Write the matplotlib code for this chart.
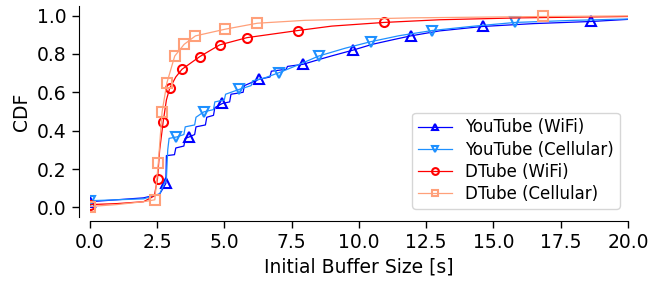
import matplotlib
matplotlib.use('Agg')
import matplotlib.pyplot as plt

# YouTube (WiFi)
yt_wifi_x = [0, 1.0, 2.0, 2.6, 2.83, 2.85, 3.15, 3.2, 3.5, 3.55, 3.69, 3.9, 3.95, 4.3, 4.35, 4.6, 4.65,
             4.93, 5.2, 5.25, 5.7, 5.75, 6.28, 6.7, 6.75, 7.3, 7.35, 7.93, 8.5, 9.0, 9.79, 10.5, 11.3,
             11.93, 13.0, 14.6, 16.5, 18.64, 20]
yt_wifi_y = [0.03, 0.04, 0.05, 0.07, 0.125, 0.27, 0.275, 0.31, 0.32, 0.36, 0.367, 0.38, 0.42, 0.43, 0.47, 0.48, 0.52,
             0.542, 0.55, 0.59, 0.60, 0.635, 0.667, 0.68, 0.71, 0.72, 0.735, 0.746, 0.77, 0.79, 0.82, 0.85, 0.875,
             0.894, 0.92, 0.943, 0.958, 0.969, 0.98]
yt_wifi_marks = [0, 4, 10, 17, 22, 27, 30, 33, 35, 37]

# YouTube (Cellular)
yt_cell_x = [0, 1.0, 2.0, 2.6, 2.85, 2.9, 2.95, 3.22, 3.5, 3.55, 3.9, 3.95, 4.24, 4.6, 4.65, 5.0, 5.05,
             5.55, 6.0, 6.05, 6.5, 7.03, 7.7, 8.51, 9.5, 10.45, 11.5, 12.73, 14.3, 15.81, 18.0, 20]
yt_cell_y = [0.035, 0.04, 0.045, 0.07, 0.15, 0.30, 0.36, 0.367, 0.38, 0.42, 0.43, 0.47, 0.498, 0.51, 0.55, 0.56, 0.59,
             0.615, 0.635, 0.66, 0.675, 0.702, 0.74, 0.789, 0.83, 0.864, 0.895, 0.922, 0.945, 0.964, 0.975, 0.982]
yt_cell_marks = [0, 7, 12, 17, 21, 23, 25, 27, 29]

# DTube (WiFi)
dt_wifi_x = [0, 1.0, 2.0, 2.4, 2.52, 2.6, 2.73, 2.85, 2.97, 3.2, 3.43, 4.09, 4.83, 5.85, 7.74, 9.0,
             10.93, 13.0, 16.0, 20]
dt_wifi_y = [0.015, 0.02, 0.03, 0.06, 0.15, 0.30, 0.446, 0.56, 0.62, 0.68, 0.72, 0.786, 0.847, 0.885, 0.922, 0.945,
             0.964, 0.978, 0.988, 0.995]
dt_wifi_marks = [0, 4, 6, 8, 10, 11, 12, 13, 14, 16]

# DTube (Cellular)
dt_cell_x = [0, 1.0, 2.0, 2.42, 2.55, 2.69, 2.87, 3.16, 3.51, 3.93, 5.04, 6.23, 8.0, 12.0, 16.85, 20]
dt_cell_y = [0.005, 0.015, 0.03, 0.04, 0.232, 0.498, 0.65, 0.789, 0.85, 0.894, 0.929, 0.96, 0.975, 0.988, 0.995, 0.998]
dt_cell_marks = [0, 3, 4, 5, 6, 7, 8, 9, 10, 11, 14]

plt.rcParams['font.family'] = 'DejaVu Sans'
plt.rcParams['font.size'] = 13.5

fig = plt.figure(figsize=(6.5, 2.83), dpi=100)
ax = fig.add_axes([0.138, 0.233, 0.828, 0.746])

ax.plot(yt_wifi_x, yt_wifi_y, color='blue', lw=0.9, marker='^', markevery=yt_wifi_marks,
        mfc='none', mec='blue', ms=6.5, mew=1.5, label='YouTube (WiFi)')
ax.plot(yt_cell_x, yt_cell_y, color='dodgerblue', lw=0.9, marker='v', markevery=yt_cell_marks,
        mfc='none', mec='dodgerblue', ms=6.5, mew=1.5, label='YouTube (Cellular)')
ax.plot(dt_wifi_x, dt_wifi_y, color='red', lw=0.9, marker='o', markevery=dt_wifi_marks,
        mfc='none', mec='red', ms=6.5, mew=1.5, label='DTube (WiFi)')
ax.plot(dt_cell_x, dt_cell_y, color='lightsalmon', lw=0.9, marker='s', markevery=dt_cell_marks,
        mfc='none', mec='lightsalmon', ms=6.5, mew=1.5, label='DTube (Cellular)')

ax.set_xlim(0, 20)
ax.set_ylim(-0.05, 1.05)
ax.set_xticks([0, 2.5, 5, 7.5, 10, 12.5, 15, 17.5, 20])
ax.set_yticks([0, 0.2, 0.4, 0.6, 0.8, 1.0])
ax.set_xlabel('Initial Buffer Size [s]')
ax.set_ylabel('CDF')

ax.spines['top'].set_visible(False)
ax.spines['right'].set_visible(False)
ax.spines['left'].set_position(('outward', 8))
ax.spines['bottom'].set_position(('outward', 3))
ax.tick_params(length=5, width=1)

leg = ax.legend(loc='lower right', fontsize=12, frameon=True, fancybox=True,
                bbox_to_anchor=(1.0, 0.0), handlelength=2.0, borderpad=0.35,
                labelspacing=0.25, markerscale=0.75)
leg.get_frame().set_edgecolor('#cccccc')

fig.savefig('out.png', dpi=100)
